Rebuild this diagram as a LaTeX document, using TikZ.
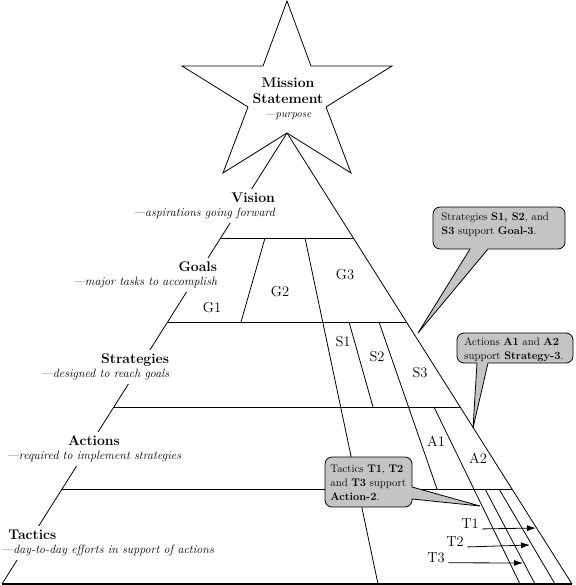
\documentclass[tikz,border=0pt]{standalone}
\usetikzlibrary{calc,arrows.meta}
\definecolor{calloutgray}{RGB}{196,196,196}
\newcommand{\tierdesc}[1]{{\normalfont\itshape\fontsize{12}{12}\selectfont #1}}

\begin{document}
\begin{tikzpicture}[x=1pt,y=-1pt,line width=0.8pt,
  tier/.style={fill=white,inner xsep=3pt,inner ysep=4pt,font=\fontsize{14}{14}\selectfont\bfseries},
  part/.style={font=\fontsize{14.5}{15}\selectfont},
  bubble/.style={draw,fill=calloutgray,rounded corners=7pt},
  bubbletext/.style={anchor=west,align=left,inner sep=0pt,font=\fontsize{11}{13.8}\selectfont},
  tip/.style={-{Latex[length=9pt,width=6pt]}}]
  \useasboundingbox (0,0) rectangle (575,585);

  % star
  \draw (287,1) -- (311,66) -- (392,66) -- (326,107) -- (351,173) -- (287,133) coordinate (apex)
    -- (223,173) -- (248,107) -- (182,66) -- (263,66) -- cycle;
  \node[align=center,font=\fontsize{14}{16}\selectfont\bfseries] (mission) at (288,99)
    {Mission\\Statement\\[-2pt]{\normalfont\itshape\fontsize{11}{12}\selectfont ---purpose}};

  % pyramid
  \coordinate (bl) at (2,584);
  \coordinate (br) at (572,584);
  \draw (apex) -- (bl);
  \draw (apex) -- (br);
  \draw[line width=1.6pt] (bl) -- (br);
  \foreach \y in {238,322,407,489}
    \draw ($(apex)!{(\y-133)/451}!(bl)$) -- ($(apex)!{(\y-133)/451}!(br)$);
  \draw (265,238) -- (241,322);
  \draw (305,238) -- (378,584);
  \draw (349,322) -- (373,407);
  \draw (379,322) -- (437,489);
  \draw (434,407) -- (520,584);
  \draw (485,489) -- (535,584);
  \draw (499,489) -- (555,584);

  % levels
  \node[tier,align=right] (vision) at (204,206) {Vision\\\tierdesc{---aspirations going forward}};
  \node[tier,align=right] (goals) at (145,275) {Goals\\\tierdesc{---major tasks to accomplish}};
  \node[tier,align=right] (strategies) at (105,367) {Strategies\\\tierdesc{---designed to reach goals}};
  \node[tier,align=center] (actions) at (94,449) {Actions\\\tierdesc{---required to implement strategies}};
  \node[tier,align=left,anchor=west] (tactics) at (-2,543) {\hspace*{7pt}Tactics\\\tierdesc{---day-to-day efforts in support of actions}};

  \node[part] (g1) at (212,308) {G1};
  \node[part] (g2) at (280,292) {G2};
  \node[part] (g3) at (345,275) {G3};
  \node[part] (s1) at (343,342) {S1};
  \node[part] (s2) at (377,357) {S2};
  \node[part] (s3) at (420,373) {S3};
  \node[part] (a1) at (436,441) {A1};
  \node[part] (a2) at (478,458) {A2};
  \node[part] (t1) at (470,524) {T1};
  \node[part] (t2) at (455,542) {T2};
  \node[part] (t3) at (436,558) {T3};

  \coordinate (t1end) at (536,528);
  \coordinate (t2end) at (530,545);
  \coordinate (t3end) at (523,563);
  \draw[tip] (t1.base east) -- (t1end);
  \draw[tip] (t2.base east) -- (t2end);
  \draw[tip] (t3.base east) -- (t3end);

  % callouts
  \coordinate (goaltip) at (418,333);
  \coordinate (stratip) at (473,428);
  \coordinate (actiontip) at (480,506);
  \draw[bubble] (499,207) -- (565,207) -- (565,249) [sharp corners] -- (488,249) -- (goaltip)
    -- (470,249) [rounded corners=7pt] -- (433,249) -- (433,207) -- cycle;
  \node[bubbletext] (goalnote) at (441,225)
    {Strategies \textbf{S1, S2}, and\\\textbf{S3} support \textbf{Goal-3}.};
  \draw[bubble] (515,333) -- (573,333) -- (573,363) [sharp corners] -- (488,363) -- (stratip)
    -- (477,363) [rounded corners=7pt] -- (457,363) -- (457,333) -- cycle;
  \node[bubbletext] (stranote) at (464,350)
    {Actions \textbf{A1} and \textbf{A2}\\support \textbf{Strategy-3}.};
  \draw[bubble] (368,457) -- (412,457) [sharp corners] -- (412,487) -- (actiontip)
    -- (412,499) [rounded corners=7pt] -- (412,507) -- (325,507) -- (325,457) -- cycle;
  \node[bubbletext] (actionnote) at (330,483)
    {Tactics \textbf{T1}, \textbf{T2}\\and \textbf{T3} support\\\textbf{Action-2}.};
\end{tikzpicture}
\end{document}
